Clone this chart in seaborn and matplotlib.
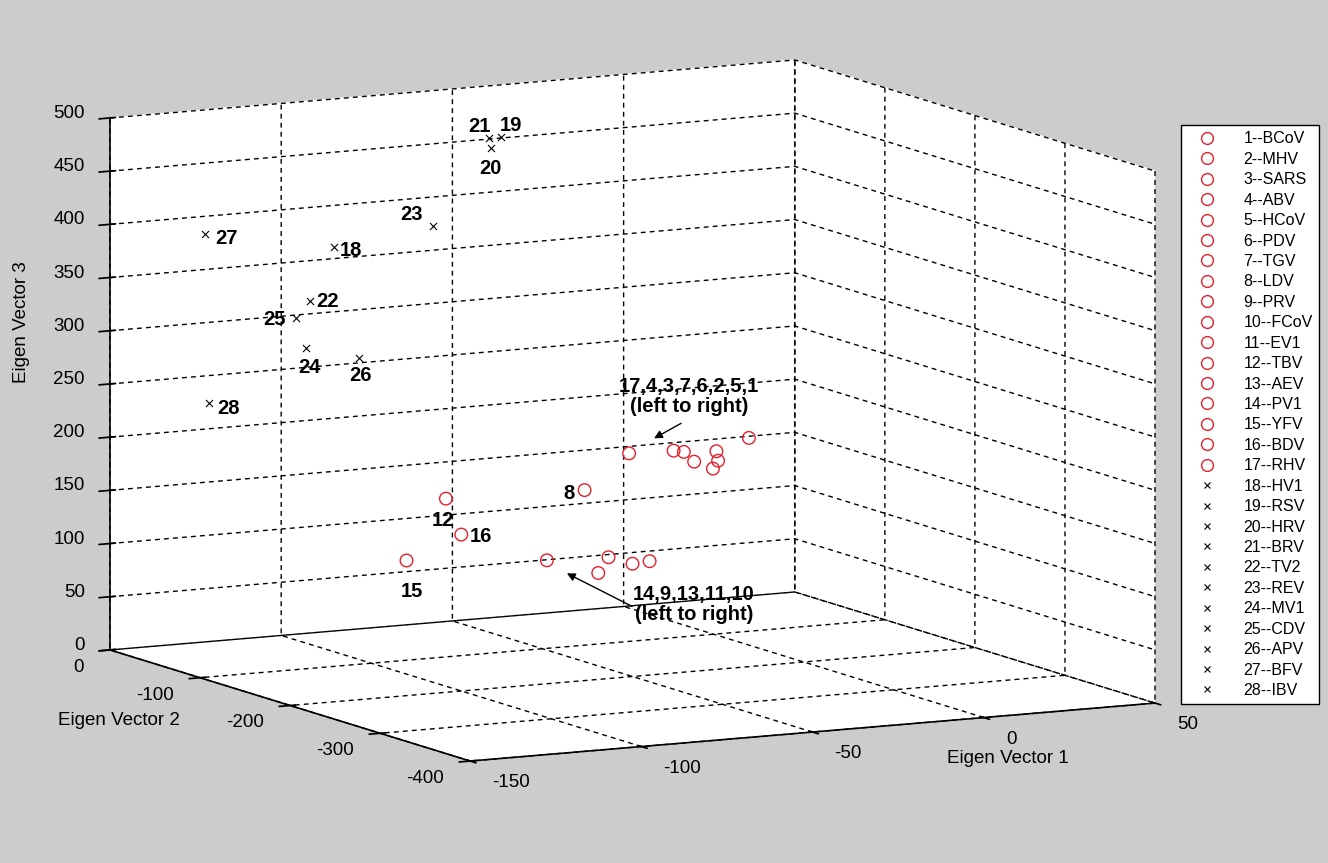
import numpy as np
import pandas as pd
import matplotlib
matplotlib.use("Agg")
import matplotlib.pyplot as plt
from matplotlib.lines import Line2D
from matplotlib.ticker import NullFormatter
from mpl_toolkits.mplot3d import proj3d
import seaborn as sns

# ---------------- data ----------------
ids = [1, 2, 3, 4, 5, 6, 7, 8, 9, 10, 11, 12, 13, 14, 15, 16, 17,
       18, 19, 20, 21, 22, 23, 24, 25, 26, 27, 28]
names = ["BCoV", "MHV", "SARS", "ABV", "HCoV", "PDV", "TGV", "LDV", "PRV",
         "FCoV", "EV1", "TBV", "AEV", "PV1", "YFV", "BDV", "RHV",
         "HV1", "RSV", "HRV", "BRV", "TV2", "REV", "MV1", "CDV", "APV",
         "BFV", "IBV"]
ev1 = [-16, -25, -35, -38, -25.5, -26.5, -32, -64, -60, -45, -50, -104.5,
       -57, -75, -116, -100, -51,
       -111, -62, -65, -65.5, -118, -82, -119, -122, -103.5, -138, -137]
ev2 = [-200, -200, -200, -200, -200, -200, -200, -200, -200, -200, -200,
       -200, -200, -200, -200, -200, -200,
       -100, -100, -100, -100, -100, -100, -100, -100, -100, -60, -60]
ev3 = [215, 196, 207, 209, 205, 189, 197, 179, 100, 107, 106, 182, 114,
       116, 127, 147, 210,
       394, 484, 475, 484, 345, 406, 301, 330, 288, 403, 244]
group = ["circle"] * 17 + ["cross"] * 11

xticks = [-150, -100, -50, 0, 50]
yticks = [-400, -300, -200, -100, 0]
zticks = [0, 50, 100, 150, 200, 250, 300, 350, 400, 450, 500]

labeled = [27, 18, 22, 25, 24, 26, 28, 23, 21, 19, 20, 12, 16, 15, 8]
note_top = "17,4,3,7,6,2,5,1\n(left to right)"
note_bottom = "14,9,13,11,10\n(left to right)"

df = pd.DataFrame({"id": ids, "name": names, "ev1": ev1, "ev2": ev2,
                   "ev3": ev3, "group": group})

# ---------------- style ----------------
RED = "#e3202c"
BG = "#cccccc"
W, H = 1328, 863
TICK_FS = 13.5
LAB_FS = 13.5

sns.set_theme(style="white")
plt.rcParams["font.family"] = ["Liberation Sans", "DejaVu Sans"]
plt.rcParams.update({
    "grid.color": "black", "grid.linestyle": (0, (3.5, 3)),
    "grid.linewidth": 1.0, "axes.edgecolor": "black",
    "axes.linewidth": 1.2, "xtick.color": "black", "ytick.color": "black",
    "text.color": "black", "axes.labelcolor": "black",
    "axes.unicode_minus": False,
})

# label offsets (pixels, right / down) relative to the marker
label_off = {27: (21, 3), 18: (17, 2), 22: (18, -1), 25: (-21, 0),
             24: (3, 18), 26: (1, 16), 28: (20, 4), 23: (-21, -13),
             21: (-10, -13), 19: (10, -13), 20: (-1, 19), 12: (-3, 20),
             16: (20, 0), 15: (5, 29), 8: (-16, 2)}

fig = plt.figure(figsize=(W / 100, H / 100), dpi=100, facecolor=BG)
ax = fig.add_axes([0.2, 0.1, 0.55, 0.8], projection="3d", proj_type="ortho")
ax.set_facecolor(BG)
ax.view_init(elev=9.3, azim=-117.65)
ASPECT = (773, 776, 539)
zoom = 1.0
ax.set_box_aspect(ASPECT, zoom=zoom)

circ = df[df.group == "circle"]
crs = df[df.group == "cross"]
s1 = ax.scatter(circ.ev1, circ.ev2, circ.ev3, marker="o", s=82,
                facecolors="none", edgecolors=RED, linewidths=1.0,
                depthshade=False)
s2 = ax.scatter(crs.ev1, crs.ev2, crs.ev3, marker="x", s=26, c="black",
                linewidths=0.8, depthshade=False)
s1.set_clip_on(False)
s2.set_clip_on(False)

ax.set_xlim(-150, 50)
ax.set_ylim(-400, 0)
ax.set_zlim(0, 500)
ax.set_xticks(xticks)
ax.set_yticks(yticks)
ax.set_zticks(zticks)
for axis in (ax.xaxis, ax.yaxis, ax.zaxis):
    axis.set_pane_color((1, 1, 1, 1))
    axis.pane.set_edgecolor((1, 1, 1, 0))
    axis.line.set_color("black")
    axis.line.set_linewidth(1.2)
    axis.set_major_formatter(NullFormatter())
ax.tick_params(colors="black")


def to_px(x, y, z):
    X, Y, _ = proj3d.proj_transform(x, y, z, ax.get_proj())
    return ax.transData.transform((X, Y))


# fit the box to the reference frame
for _ in range(3):
    fig.canvas.draw()
    p0 = to_px(-150, 0, 0)
    p1 = to_px(-150, 0, 500)
    zoom *= 532.0 / (p1[1] - p0[1])
    ax.set_box_aspect(ASPECT, zoom=zoom)
    fig.canvas.draw()
    c = to_px(-50, -200, 250)
    pos = ax.get_position(original=True)
    ax.set_position([pos.x0 + (632.5 - c[0]) / W,
                     pos.y0 + ((H - 410.5) - c[1]) / H,
                     pos.width, pos.height])
fig.canvas.draw()

# tick labels (MATLAB style placement)
for v in xticks:
    px, py = to_px(v, -400, 0)
    fig.text((px + 22) / W, (py - 21.5) / H, str(v), ha="left", va="center",
             fontsize=TICK_FS)
for v in yticks:
    px, py = to_px(-150, v, 0)
    fig.text((px - 26) / W, (py - 17.5) / H, str(v), ha="right",
             va="center", fontsize=TICK_FS)
for v in zticks:
    px, py = to_px(-150, 0, v)
    fig.text((px - 25) / W, (py + 4.5) / H, str(v), ha="right", va="center",
             fontsize=TICK_FS)

# axis titles
fig.text(1007.5 / W, 1 - 758 / H, "Eigen Vector 1", ha="center",
         va="center", fontsize=LAB_FS)
fig.text(119 / W, 1 - 720 / H, "Eigen Vector 2", ha="center", va="center",
         fontsize=LAB_FS)
fig.text(22 / W, 1 - 322 / H, "Eigen Vector 3", ha="center", va="center",
         rotation=90, fontsize=LAB_FS)

# point labels
pts = {r.id: to_px(r.ev1, r.ev2, r.ev3) for r in df.itertuples()}
for i in labeled:
    px, py = pts[i]
    dx, dy = label_off[i]
    fig.text((px + dx) / W, (py - dy - 1.5) / H, str(i), ha="center",
             va="center", fontsize=14.5, fontweight="bold")

# arrow notes
p17 = pts[17]
ax.annotate("", xy=(p17[0] + 25, p17[1] + 15), xycoords="figure pixels",
            xytext=(p17[0] + 52, p17[1] + 30), textcoords="figure pixels",
            arrowprops=dict(arrowstyle="-|>", color="black", lw=1.0,
                            mutation_scale=12, shrinkA=0, shrinkB=0))
fig.text((p17[0] + 60) / W, (p17[1] + 57) / H, note_top, ha="center",
         va="center", fontsize=14.5, fontweight="bold", linespacing=1.1)
p14 = pts[14]
ax.annotate("", xy=(p14[0] + 20, p14[1] - 13), xycoords="figure pixels",
            xytext=(p14[0] + 85, p14[1] - 46), textcoords="figure pixels",
            arrowprops=dict(arrowstyle="-|>", color="black", lw=1.0,
                            mutation_scale=12, shrinkA=0, shrinkB=0))
fig.text((p14[0] + 147) / W, (p14[1] - 44) / H, note_bottom, ha="center",
         va="center", fontsize=14.5, fontweight="bold", linespacing=1.1)

# legend
handles = []
for g in df.group:
    if g == "circle":
        handles.append(Line2D([], [], ls="none", marker="o", mfc="none",
                              mec=RED, ms=8.5, mew=1.0))
    else:
        handles.append(Line2D([], [], ls="none", marker="x", color="black",
                              ms=5, mew=0.8))
labels = [f"{i}--{n}" for i, n in zip(df.id, df.name)]
leg = fig.legend(handles, labels, loc="upper left",
                 bbox_to_anchor=(1181 / W, 1 - 125 / H),
                 bbox_transform=fig.transFigure, frameon=True, fancybox=False,
                 edgecolor="black", facecolor="white", framealpha=1,
                 fontsize=11.5, labelspacing=0.34, handlelength=2.5,
                 handletextpad=1.0, borderpad=0.4, borderaxespad=0)
leg.get_frame().set_linewidth(1.0)

fig.savefig("out.png", dpi=100, facecolor=BG)
